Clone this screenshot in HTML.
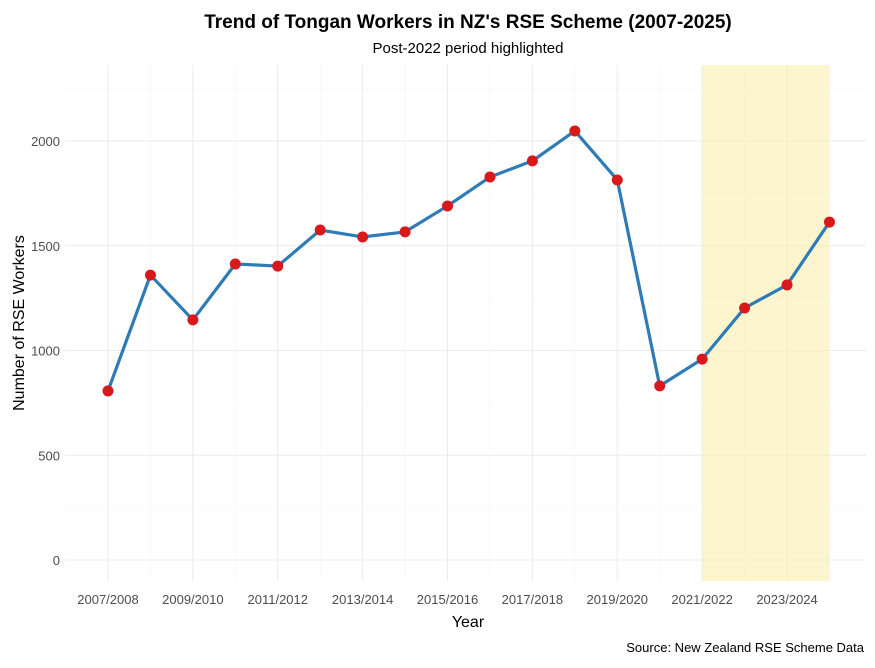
<!DOCTYPE html>
<html><head><meta charset="utf-8"><style>
body{margin:0;background:#fff;font-family:"Liberation Sans",sans-serif}
</style></head><body>
<svg id="chart" width="875" height="663" xmlns="http://www.w3.org/2000/svg" font-family="Liberation Sans, sans-serif">
<text x="468" y="28" text-anchor="middle" font-size="19" font-weight="bold" fill="#000">Trend of Tongan Workers in NZ's RSE Scheme (2007-2025)</text>
<text x="468" y="53" text-anchor="middle" font-size="15" fill="#000">Post-2022 period highlighted</text>
<g id="grid"></g><g id="hl"></g><g id="marks"></g><g id="axes"></g>
<text x="468" y="627" text-anchor="middle" font-size="16" fill="#000">Year</text>
<text transform="translate(24,323) rotate(-90)" text-anchor="middle" font-size="16" fill="#000">Number of RSE Workers</text>
<text x="864" y="652" text-anchor="end" font-size="13" fill="#000">Source: New Zealand RSE Scheme Data</text>
</svg>
<script>
const categories=["2007/2008","2008/2009","2009/2010","2010/2011","2011/2012","2012/2013","2013/2014","2014/2015","2015/2016","2016/2017","2017/2018","2018/2019","2019/2020","2020/2021","2021/2022","2022/2023","2023/2024","2024/2025"];
const workers=[807,1360,1146,1413,1403,1575,1542,1566,1690,1828,1905,2048,1814,831,959,1203,1313,1613];
const yTicks=[0,500,1000,1500,2000];
const highlightStart=14, highlightEnd=17;
const NS="http://www.w3.org/2000/svg";
const xs=i=>108+i*42.44;
const ys=v=>560-v*0.2095;
function mk(tag,attrs,parent){const e=document.createElementNS(NS,tag);for(const k in attrs)e.setAttribute(k,attrs[k]);document.getElementById(parent).appendChild(e);return e;}
const plotTop=65,plotBot=581,plotLeft=65,plotRight=866;
yTicks.forEach(t=>{
 const l=mk('line',{x1:plotLeft,x2:plotRight,y1:ys(t),y2:ys(t),stroke:'#ebebeb','stroke-width':1},'grid');
 
 
 const tx=mk('text',{x:60,y:ys(t)+5,'text-anchor':'end','font-size':13,fill:'#4d4d4d'},'axes');tx.textContent=t;
 
 
});
[250,750,1250,1750,2250].forEach(t=>{
 const l=mk('line',{x1:plotLeft,x2:plotRight,y1:ys(t),y2:ys(t),stroke:'#f4f4f4','stroke-width':0.6},'grid');
 
 
});
categories.forEach((c,i)=>{
 const l=mk('line',{x1:xs(i),x2:xs(i),y1:plotTop,y2:plotBot,stroke:i%2==0?'#ebebeb':'#f4f4f4','stroke-width':i%2==0?1:0.6},'grid');
 
 
 if(i%2==0){const tx=mk('text',{x:xs(i),y:604,'text-anchor':'middle','font-size':13,fill:'#4d4d4d'},'axes');tx.textContent=c;
 
 }
});
const r=mk('rect',{x:xs(highlightStart),y:plotTop,width:xs(highlightEnd)-xs(highlightStart),height:plotBot-plotTop,fill:'#fbefad',opacity:0.6},'hl');


const p=mk('polyline',{points:workers.map((v,i)=>xs(i)+','+ys(v)).join(' '),fill:'none',stroke:'#2e7bb6','stroke-width':3.2,'stroke-linejoin':'round'},'marks');


workers.forEach((v,i)=>{
 const c=mk('circle',{cx:xs(i),cy:ys(v),r:5.5,fill:'#d7191c'},'marks');
 
 
});
</script>
</body></html>
